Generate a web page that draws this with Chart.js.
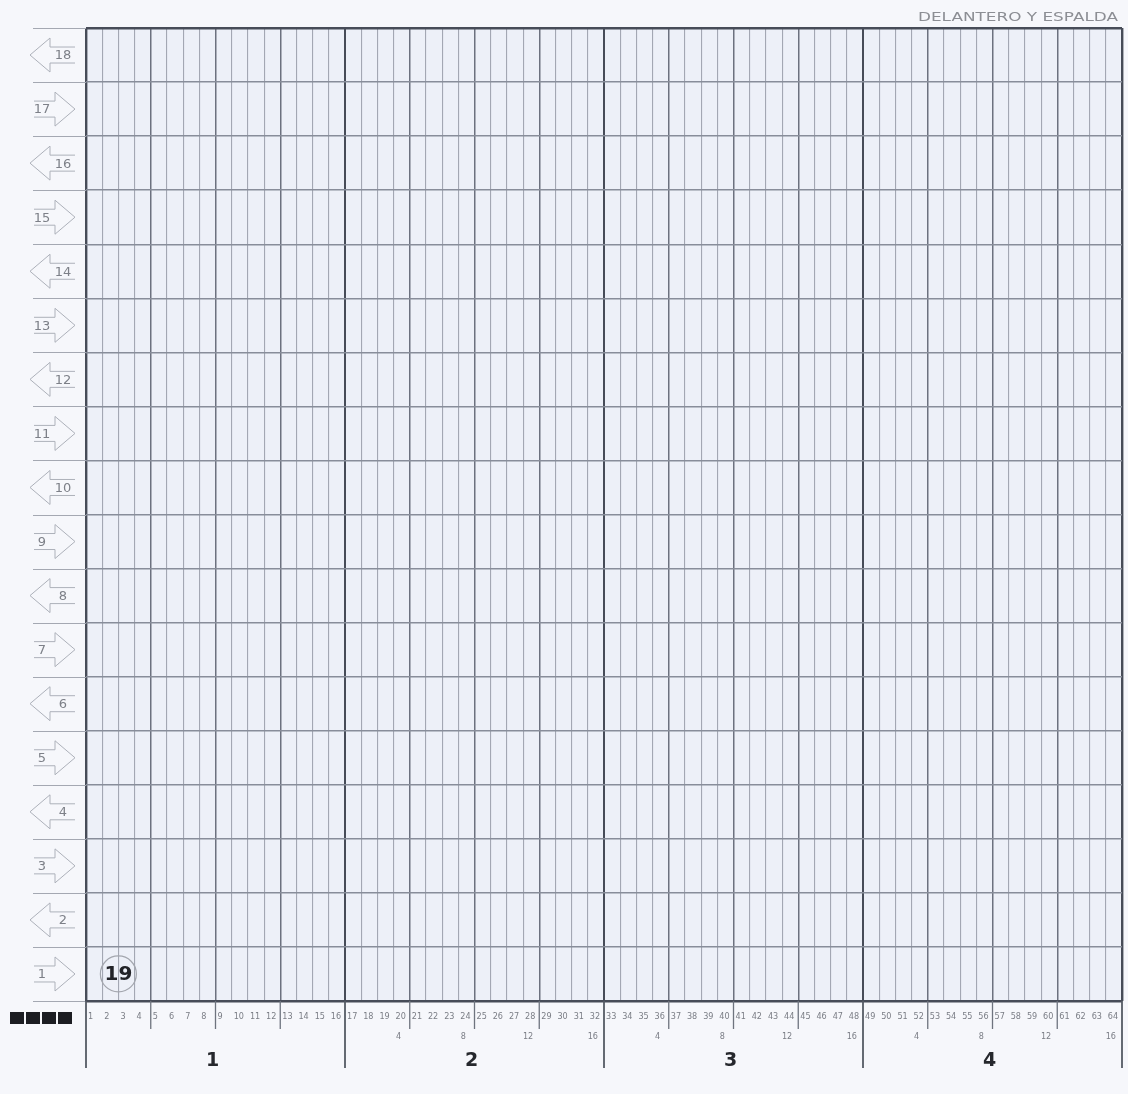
<!DOCTYPE html>
<html>
<head>
<meta charset="utf-8">
<script src="https://cdn.jsdelivr.net/npm/chart.js@4/dist/chart.umd.min.js"></script>
<style>
html,body{margin:0;padding:0;background:#f6f7fb;overflow:hidden;}
canvas{display:block;}
</style>
</head>
<body>
<canvas id="c" width="1128" height="1094"></canvas>
<script>
// ---- data ----
const chartTitle = 'DELANTERO Y ESPALDA';
const columnLabels = ['1','2','3','4','5','6','7','8','9','10','11','12','13','14','15','16',
  '17','18','19','20','21','22','23','24','25','26','27','28','29','30','31','32',
  '33','34','35','36','37','38','39','40','41','42','43','44','45','46','47','48',
  '49','50','51','52','53','54','55','56','57','58','59','60','61','62','63','64'];
const rowLabels = ['1','2','3','4','5','6','7','8','9','10','11','12','13','14','15','16','17','18'];
const rowArrows = ['right','left','right','left','right','left','right','left','right',
  'left','right','left','right','left','right','left','right','left'];
const subLabelColumns = [20,24,28,32,36,40,44,48,52,56,60,64];
const subLabelTexts = ['4','8','12','16','4','8','12','16','4','8','12','16'];
const sectionLabels = ['1','2','3','4'];
const markerPoints = [{x: 2, y: 0.5}];
const markerLabels = ['19'];
const legendSquares = 4;

const NCOLS = columnLabels.length;
const NROWS = rowLabels.length;

function vColor(v){
  if (v % 16 === 0) return '#474c58';
  if (v % 4 === 0) return '#6c717f';
  return '#a3a7b3';
}
function vWidth(v){
  if (v === 0 || v === NCOLS) return 2.4;
  if (v % 16 === 0) return 2;
  if (v % 4 === 0) return 1.5;
  return 1.1;
}

const knitPlugin = {
  id: 'knit',
  beforeDraw(chart){
    const ctx = chart.ctx, a = chart.chartArea;
    ctx.save();
    ctx.fillStyle = '#f6f7fb';
    ctx.fillRect(0,0,chart.width,chart.height);
    ctx.fillStyle = '#edf0f8';
    ctx.fillRect(a.left, a.top, a.right-a.left, a.bottom-a.top);
    ctx.restore();
  },
  afterDraw(chart){
    const ctx = chart.ctx, a = chart.chartArea;
    const xs = chart.scales.x, ys = chart.scales.y;
    ctx.save();

    // title
    ctx.font = '13px "DejaVu Sans", sans-serif';
    ctx.fillStyle = '#8c8e94';
    ctx.textBaseline = 'middle';
    const tw = ctx.measureText(chartTitle).width;
    const target = 200;
    ctx.save();
    ctx.translate(a.right - 4 - target, 18);
    ctx.scale(target / tw, 1);
    ctx.textAlign = 'left';
    ctx.fillText(chartTitle, 0, 0);
    ctx.restore();

    // left row separators
    ctx.strokeStyle = '#a4a8b2';
    ctx.lineWidth = 1;
    for (let r = 0; r <= NROWS; r++) {
      const y = Math.round(ys.getPixelForValue(r)) + 0.5;
      ctx.beginPath();
      ctx.moveTo(33, y);
      ctx.lineTo(a.left, y);
      ctx.stroke();
    }

    // row arrows + labels
    ctx.font = '13px "DejaVu Sans", sans-serif';
    for (let r = 0; r < NROWS; r++) {
      const cy = ys.getPixelForValue(r + 0.5);
      ctx.strokeStyle = '#adb1ba';
      ctx.lineWidth = 1;
      ctx.beginPath();
      if (rowArrows[r] === 'left') {
        ctx.moveTo(75, cy - 8);
        ctx.lineTo(50, cy - 8);
        ctx.lineTo(50, cy - 17);
        ctx.lineTo(30, cy);
        ctx.lineTo(50, cy + 17);
        ctx.lineTo(50, cy + 8);
        ctx.lineTo(75, cy + 8);
        ctx.stroke();
        ctx.fillStyle = '#7d8088';
        ctx.textAlign = 'center';
        ctx.fillText(rowLabels[r], 63, cy + 1);
      } else {
        ctx.moveTo(34, cy - 8);
        ctx.lineTo(55, cy - 8);
        ctx.lineTo(55, cy - 17);
        ctx.lineTo(75, cy);
        ctx.lineTo(55, cy + 17);
        ctx.lineTo(55, cy + 8);
        ctx.lineTo(34, cy + 8);
        ctx.stroke();
        ctx.fillStyle = '#7d8088';
        ctx.textAlign = 'center';
        ctx.fillText(rowLabels[r], 42, cy + 1);
      }
    }

    // extension lines under grid
    for (let c = 0; c <= NCOLS; c += 4) {
      const x = xs.getPixelForValue(c);
      const longLine = c % 16 === 0;
      ctx.strokeStyle = longLine ? '#555a64' : '#6e737e';
      ctx.lineWidth = longLine ? 1.8 : 1.3;
      ctx.beginPath();
      ctx.moveTo(x, a.bottom);
      ctx.lineTo(x, longLine ? 1068 : 1029);
      ctx.stroke();
    }

    // column numbers
    ctx.font = '9px "DejaVu Sans Condensed", "Liberation Sans Narrow", sans-serif';
    ctx.fillStyle = '#7a7d85';
    ctx.textAlign = 'left';
    ctx.textBaseline = 'middle';
    for (let c = 0; c < NCOLS; c++) {
      const x = xs.getPixelForValue(c);
      ctx.fillText(columnLabels[c], x + 2, 1017);
    }
    // sub labels
    ctx.textAlign = 'center';
    for (let i = 0; i < subLabelColumns.length; i++) {
      const x = xs.getPixelForValue(subLabelColumns[i] - 1);
      ctx.fillText(subLabelTexts[i], x + 5, 1037);
    }
    // section labels
    ctx.font = 'bold 19px "DejaVu Sans", sans-serif';
    ctx.fillStyle = '#26282d';
    const per = NCOLS / sectionLabels.length;
    for (let s = 0; s < sectionLabels.length; s++) {
      const x = xs.getPixelForValue(s * per + per / 2);
      ctx.fillText(sectionLabels[s], x - 3, 1061);
    }

    // legend squares
    ctx.fillStyle = '#1c1d22';
    for (let i = 0; i < legendSquares; i++) {
      ctx.fillRect(10 + i * 16, 1012, 14, 12);
    }

    // marker labels
    const meta = chart.getDatasetMeta(0);
    ctx.font = 'bold 20px "DejaVu Sans", sans-serif';
    ctx.fillStyle = '#222328';
    ctx.textAlign = 'center';
    ctx.textBaseline = 'middle';
    meta.data.forEach((pt, i) => {
      ctx.fillText(markerLabels[i], pt.x, pt.y + 1);
    });

    ctx.restore();
  }
};

new Chart(document.getElementById('c'), {
  type: 'scatter',
  data: {
    datasets: [{
      data: markerPoints,
      pointRadius: 18,
      pointHoverRadius: 18,
      pointBackgroundColor: 'rgba(255,255,255,0)',
      pointBorderColor: '#a3a6ae',
      pointBorderWidth: 1.2
    }]
  },
  options: {
    responsive: false,
    animation: false,
    events: [],
    layout: { autoPadding: false, padding: { left: 86, top: 28, right: 6, bottom: 93 } },
    plugins: { legend: { display: false }, tooltip: { enabled: false }, title: { display: false } },
    scales: {
      x: {
        type: 'linear', min: 0, max: NCOLS,
        ticks: { display: false, stepSize: 1, maxTicksLimit: 1000 },
        grid: {
          drawTicks: false,
          color: ctx => vColor(ctx.tick.value),
          lineWidth: ctx => vWidth(ctx.tick.value)
        },
        border: { display: false }
      },
      y: {
        type: 'linear', min: 0, max: NROWS,
        ticks: { display: false, stepSize: 1, maxTicksLimit: 1000 },
        grid: {
          drawTicks: false,
          color: ctx => (ctx.tick.value === 0 || ctx.tick.value === NROWS) ? '#474c58' : '#888d9a',
          lineWidth: ctx => (ctx.tick.value === 0 || ctx.tick.value === NROWS) ? 2.4 : 1.4
        },
        border: { display: false }
      }
    }
  },
  plugins: [knitPlugin]
});
</script>
</body>
</html>
